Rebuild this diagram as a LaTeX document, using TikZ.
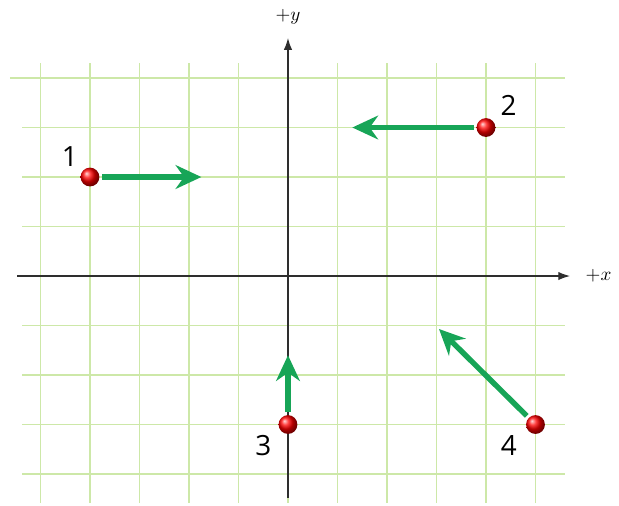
\documentclass[tikz,border=0pt]{standalone}
\usepackage{fontspec}
\setmainfont{Open Sans}
\usepackage{xcolor}
\definecolor{GridGreen}{HTML}{CDE8A8}
\definecolor{ArrowGreen}{HTML}{17A557}
\definecolor{AxisGray}{HTML}{2E2E2E}
\usepackage{amsmath}
\usepackage{tikz}
\usetikzlibrary{arrows.meta, positioning}

\begin{document}
\begin{tikzpicture}[
  ball/.style={circle,inner sep=0pt,minimum size=3.8mm,ball color=red},
  move/.style={-{Stealth[length=5.2mm,width=4.8mm,inset=1.7mm]},ArrowGreen,line width=3.1pt},
  num/.style={inner sep=0pt,font=\fontsize{16}{18}\selectfont},
  axis/.style={-{Latex[length=2.4mm,width=1.7mm]},AxisGray,line width=0.8pt},
  axlab/.style={inner sep=0pt,text=black,font=\fontsize{11}{13}\selectfont}]
  \useasboundingbox (-5.818,-4.646) rectangle (6.687,5.576);
  % grid
  \foreach \x in {-5,...,5}
    \draw[GridGreen,line width=1.05pt] (\x,-4.59)--(\x,4.3);
  \draw[GridGreen,line width=1.05pt] (-5.62,4)--(5.6,4);
  \foreach \y in {-4,...,3}
    \draw[GridGreen,line width=1.05pt] (-5.37,\y)--(5.6,\y);
  % axes
  \draw[axis] (-5.47,0)--(5.7,0) node[axlab,right=0.3cm] (xlab) {$+x$};
  \draw[axis] (0,-4.48)--(0,4.81) node[axlab,above=0.26cm] (ylab) {$+y$};
  % balls
  \node[ball] (b1) at (-4,2) {};
  \node[ball] (b2) at (4,3) {};
  \node[ball] (b3) at (0,-3) {};
  \node[ball] (b4) at (5,-3) {};
  % arrow tips
  \coordinate (t1) at (-1.75,2);
  \coordinate (t2) at (1.3,3);
  \coordinate (t3) at (0,-1.6);
  \coordinate (t4) at (3.05,-1.07);
  \draw[move,shorten <=1.5pt] (b1)--(t1);
  \draw[move,shorten <=1.5pt] (b2)--(t2);
  \draw[move,shorten <=1.5pt] (b3)--(t3);
  \draw[move,shorten <=1.5pt] (b4)--(t4);
  % labels
  \node[num,above left=0.07cm and 0.1cm of b1] (n1) {1};
  \node[num,above right=0.1cm and 0.15cm of b2] (n2) {2};
  \node[num,below left=0.08cm and 0.19cm of b3] (n3) {3};
  \node[num,below left=0.08cm and 0.23cm of b4] (n4) {4};
\end{tikzpicture}
\end{document}
